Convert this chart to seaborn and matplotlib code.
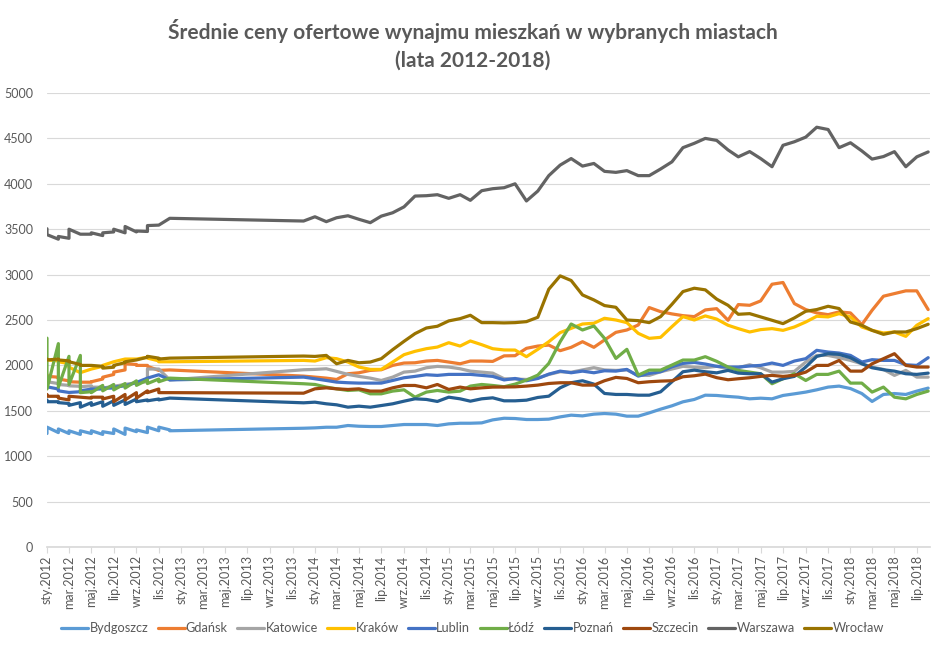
import pandas as pd
import seaborn as sns
import matplotlib.pyplot as plt

# miasta i kolory (paleta Office)
cities = ['Bydgoszcz', 'Gdańsk', 'Katowice', 'Kraków', 'Lublin',
          'Łódź', 'Poznań', 'Szczecin', 'Warszawa', 'Wrocław']
colors = ['#5B9BD5', '#ED7D31', '#A5A5A5', '#FFC000', '#4472C4',
          '#70AD47', '#255E91', '#9E480E', '#636363', '#997300']

# 2012: dwa odczyty w kazdym miesiacu (ten sam punkt osi)
dates_2012 = [pd.Timestamp(2012, m, 1) for m in range(1, 13) for _ in range(2)]
# od grudnia 2013 do sierpnia 2018: jeden odczyt miesiecznie
dates_monthly = list(pd.date_range('2013-12-01', '2018-08-01', freq='MS'))

bydgoszcz_2012 = [1250, 1320, 1260, 1300, 1250, 1280, 1240, 1280, 1250, 1280, 1240, 1270,
                  1250, 1300, 1240, 1310, 1270, 1290, 1260, 1320, 1280, 1320, 1290, 1280]
gdansk_2012 = [1900, 1880, 1870, 1850, 1830, 1820, 1815, 1815, 1815, 1820, 1850, 1870,
               1900, 1926, 1950, 2018, 2010, 2000, 2000, 1990, 1945, 1945, 1950, 1950]
katowice_2012 = [1860, 1820, 1800, 1790, 1780, 1775, 1770, 1765, 1775, 1760, 1760, 1750,
                 1770, 1770, 1790, 1790, 1810, 1810, 1820, 1960, 1960, 1960, 1840, 1840]
krakow_2012 = [2060, 2060, 2050, 2040, 2020, 1980, 1920, 1920, 1960, 1960, 1990, 2000,
               2040, 2040, 2070, 2070, 2070, 2070, 2090, 2080, 2050, 2040, 2040, 2040]
lublin_2012 = [1780, 1764, 1740, 1720, 1702, 1702, 1710, 1720, 1739, 1739, 1740, 1750,
               1750, 1760, 1775, 1775, 1812, 1812, 1860, 1860, 1897, 1897, 1840, 1840]
lodz_2012 = [2300, 1740, 2240, 1760, 2100, 1790, 2110, 1700, 1710, 1700, 1780, 1720,
             1790, 1730, 1800, 1750, 1830, 1780, 1840, 1800, 1850, 1820, 1860, 1860]
poznan_2012 = [1620, 1600, 1600, 1590, 1580, 1560, 1590, 1540, 1590, 1560, 1600, 1550,
               1610, 1560, 1620, 1570, 1630, 1600, 1620, 1610, 1630, 1620, 1640, 1640]
szczecin_2012 = [1680, 1660, 1660, 1640, 1620, 1660, 1650, 1650, 1640, 1650, 1650, 1630,
                 1660, 1600, 1680, 1620, 1700, 1640, 1720, 1700, 1740, 1700, 1700, 1700]
warszawa_2012 = [3505, 3440, 3390, 3420, 3400, 3500, 3445, 3445, 3445, 3460, 3430, 3460,
                 3470, 3500, 3460, 3530, 3470, 3480, 3475, 3540, 3545, 3545, 3620, 3620]
wroclaw_2012 = [2070, 2060, 2070, 2060, 2050, 2040, 2010, 2000, 2000, 2000, 1990, 1970,
                1980, 2000, 2030, 2040, 2060, 2060, 2090, 2100, 2080, 2070, 2080, 2080]

bydgoszcz = [1308, 1312, 1319, 1319, 1338, 1330, 1327, 1327, 1338, 1349, 1349, 1349, 1338, 1356, 1363,
             1363, 1367, 1400, 1418, 1415, 1404, 1404, 1408, 1433, 1452, 1444, 1463, 1470, 1463, 1441,
             1441, 1477, 1518, 1555, 1599, 1625, 1672, 1669, 1658, 1650, 1632, 1639, 1632, 1669, 1687,
             1706, 1731, 1761, 1772, 1745, 1690, 1603, 1680, 1690, 1680, 1717, 1750]
gdansk = [1882, 1871, 1860, 1845, 1908, 1919, 1945, 1952, 2000, 2026, 2029, 2048, 2055, 2037, 2018,
          2048, 2048, 2044, 2105, 2107, 2188, 2213, 2224, 2162, 2199, 2261, 2199, 2280, 2364, 2390,
          2445, 2637, 2592, 2567, 2548, 2537, 2611, 2625, 2497, 2670, 2662, 2710, 2894, 2913, 2681,
          2615, 2578, 2559, 2589, 2578, 2449, 2607, 2762, 2791, 2821, 2821, 2615]
katowice = [1952, 1956, 1963, 1934, 1901, 1879, 1860, 1834, 1871, 1926, 1937, 1974, 1989, 1982, 1963,
            1937, 1926, 1915, 1853, 1850, 1845, 1860, 1900, 1930, 1925, 1950, 1975, 1950, 1945, 1950,
            1890, 1890, 1930, 1960, 1990, 1980, 1975, 1990, 1963, 1974, 2007, 1974, 1926, 1926, 1934,
            2037, 2110, 2110, 2085, 2055, 2018, 1982, 1956, 1890, 1945, 1871, 1871]
krakow = [2055, 2048, 2085, 2074, 2037, 1982, 1956, 1956, 2037, 2118, 2155, 2184, 2202, 2250, 2213,
          2269, 2228, 2184, 2170, 2169, 2096, 2177, 2261, 2361, 2408, 2456, 2464, 2519, 2500, 2471,
          2353, 2298, 2309, 2427, 2537, 2500, 2545, 2510, 2442, 2405, 2368, 2394, 2405, 2386, 2423,
          2478, 2541, 2534, 2570, 2534, 2423, 2386, 2357, 2368, 2320, 2442, 2515]
lublin = [1871, 1853, 1834, 1816, 1809, 1805, 1805, 1805, 1834, 1864, 1879, 1897, 1890, 1901, 1901,
          1901, 1890, 1879, 1840, 1856, 1831, 1856, 1904, 1937, 1919, 1937, 1919, 1941, 1937, 1956,
          1882, 1912, 1930, 1985, 2022, 2033, 2015, 1990, 1982, 1982, 1993, 2000, 2026, 2000, 2048,
          2074, 2166, 2147, 2136, 2110, 2037, 2063, 2055, 2055, 2007, 2000, 2085]
lodz = [1798, 1790, 1761, 1742, 1724, 1731, 1687, 1687, 1717, 1731, 1650, 1706, 1724, 1706, 1717,
        1772, 1790, 1779, 1765, 1794, 1838, 1893, 2022, 2261, 2456, 2390, 2434, 2298, 2077, 2177,
        1893, 1948, 1948, 2004, 2059, 2059, 2096, 2045, 1982, 1945, 1926, 1908, 1798, 1853, 1908,
        1834, 1901, 1901, 1937, 1805, 1805, 1706, 1761, 1650, 1632, 1680, 1717]
poznan = [1588, 1595, 1577, 1566, 1540, 1551, 1540, 1558, 1577, 1606, 1632, 1625, 1603, 1650, 1632,
          1606, 1632, 1643, 1610, 1610, 1617, 1647, 1661, 1753, 1809, 1831, 1794, 1691, 1680, 1680,
          1672, 1672, 1709, 1820, 1930, 1948, 1930, 1918, 1945, 1915, 1908, 1908, 1816, 1853, 1879,
          1982, 2099, 2129, 2121, 2085, 2018, 1974, 1952, 1937, 1908, 1901, 1915]
szczecin = [1694, 1742, 1753, 1742, 1735, 1742, 1717, 1717, 1753, 1779, 1779, 1753, 1790, 1735, 1761,
            1742, 1753, 1761, 1762, 1764, 1772, 1783, 1801, 1809, 1809, 1783, 1783, 1831, 1868, 1856,
            1809, 1820, 1827, 1831, 1875, 1886, 1904, 1865, 1842, 1853, 1864, 1879, 1890, 1879, 1890,
            1926, 2000, 2000, 2055, 1937, 1937, 2018, 2074, 2129, 2000, 1982, 1982]
warszawa = [3590, 3637, 3583, 3626, 3648, 3609, 3572, 3644, 3681, 3746, 3865, 3869, 3880, 3840, 3880,
            3818, 3924, 3946, 3957, 4000, 3811, 3920, 4090, 4206, 4278, 4195, 4224, 4137, 4126, 4145,
            4090, 4090, 4163, 4242, 4398, 4446, 4500, 4478, 4373, 4297, 4355, 4278, 4188, 4424, 4463,
            4514, 4623, 4598, 4398, 4452, 4362, 4272, 4300, 4354, 4188, 4297, 4351]
wroclaw = [2103, 2099, 2110, 2018, 2055, 2029, 2037, 2074, 2173, 2265, 2350, 2412, 2431, 2490, 2515,
           2552, 2471, 2471, 2468, 2471, 2482, 2530, 2839, 2986, 2935, 2776, 2721, 2659, 2640, 2500,
           2493, 2471, 2537, 2673, 2813, 2850, 2832, 2730, 2662, 2563, 2570, 2534, 2497, 2460, 2523,
           2596, 2615, 2651, 2626, 2478, 2442, 2386, 2342, 2368, 2368, 2405, 2453]

series_2012 = [bydgoszcz_2012, gdansk_2012, katowice_2012, krakow_2012, lublin_2012,
               lodz_2012, poznan_2012, szczecin_2012, warszawa_2012, wroclaw_2012]
series_monthly = [bydgoszcz, gdansk, katowice, krakow, lublin,
                  lodz, poznan, szczecin, warszawa, wroclaw]

month_abbr = ['sty', 'lut', 'mar', 'kwi', 'maj', 'cze',
              'lip', 'sie', 'wrz', 'paź', 'lis', 'gru']
tick_dates = pd.date_range('2012-01-01', '2018-07-01', freq='2MS')
tick_labels = [f'{month_abbr[d.month - 1]}.{d.year}' for d in tick_dates]

frames = []
for city, v12, vm in zip(cities, series_2012, series_monthly):
    frames.append(pd.DataFrame({'data': dates_2012 + dates_monthly,
                                'cena': v12 + vm,
                                'miasto': city}))
df = pd.concat(frames, ignore_index=True)

sns.set_theme(style='white')
plt.rcParams['font.family'] = ['Lato', 'DejaVu Sans']

fig, ax = plt.subplots(figsize=(9.45, 6.53), dpi=100)
fig.subplots_adjust(left=47 / 945, right=930 / 945, top=1 - 93 / 653, bottom=1 - 547 / 653)

sns.lineplot(data=df, x='data', y='cena', hue='miasto', hue_order=cities,
             palette=dict(zip(cities, colors)), estimator=None, sort=False,
             linewidth=2.3, ax=ax)

gray = '#595959'
ax.set_ylim(0, 5000)
ax.set_yticks(range(0, 5001, 500))
ax.set_xlim(pd.Timestamp('2012-01-01'), pd.Timestamp('2018-08-06'))
ax.set_xticks(tick_dates)
ax.set_xticklabels(tick_labels, rotation=90, fontsize=9, color=gray)
ax.tick_params(axis='y', labelsize=9, labelcolor=gray, length=0, pad=10)
ax.tick_params(axis='x', length=4, color='#d9d9d9', width=0.8, pad=2, bottom=True)
ax.yaxis.grid(True, color='#d9d9d9', linewidth=0.8)
ax.set_axisbelow(True)
for side in ['top', 'right', 'left']:
    ax.spines[side].set_visible(False)
ax.spines['bottom'].set_color('#d9d9d9')
ax.set_xlabel('')
ax.set_ylabel('')

old = ax.get_legend()
handles = old.legend_handles
labels = [t.get_text() for t in old.get_texts()]
old.remove()
ax.legend(handles, labels, loc='center', bbox_to_anchor=(0.5, 1 - 628 / 653),
          bbox_transform=fig.transFigure, ncol=10, frameon=False, fontsize=9.2,
          handlelength=2.1, handletextpad=0.1, columnspacing=0.75, labelcolor=gray)

fig.text(0.5, 1 - 45 / 653,
         'Średnie ceny ofertowe wynajmu mieszkań w wybranych miastach\n(lata 2012-2018)',
         ha='center', va='center', fontsize=15, fontweight='bold', color=gray,
         linespacing=1.5)

fig.savefig('out.png', dpi=100)
